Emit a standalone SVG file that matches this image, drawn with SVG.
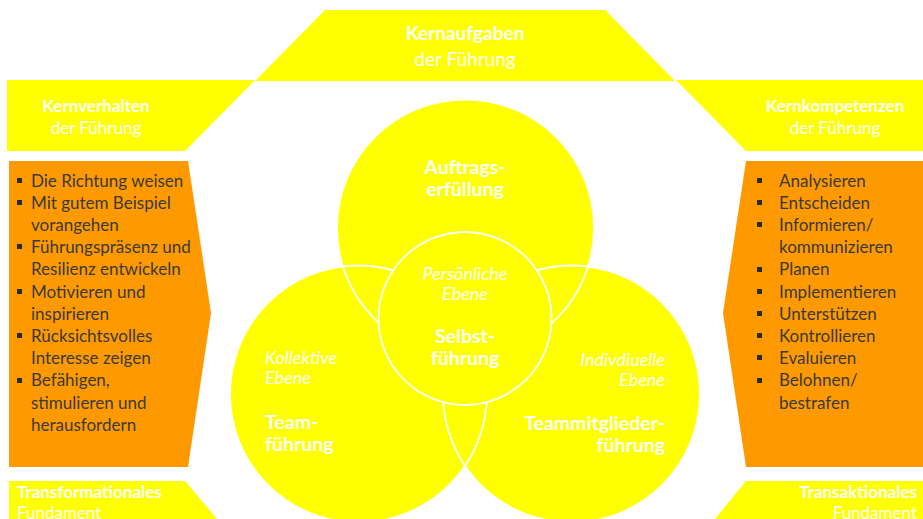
<svg xmlns="http://www.w3.org/2000/svg" width="923" height="519" viewBox="0 0 923 519">
<style>
.y{fill:#FFFF00}
.o{fill:#FF9900}
.h{font-family:Lato,"Liberation Sans",sans-serif;fill:#fff;text-anchor:middle}
.b{font-weight:bold}
.li{font-family:Lato,"Liberation Sans",sans-serif;font-size:17px;fill:#3a3a3a}
.c{font-family:Lato,"Liberation Sans",sans-serif;fill:#fff}
.it{font-style:italic;font-size:18px}
.bl{font-weight:bold;font-size:19.5px}
.ring{fill:none;stroke:#fff;stroke-width:1.8}
</style>
<rect width="923" height="519" fill="#fff"/>
<g id="kernaufgaben">
<polygon class="y" points="325,10 605,10 675,81 255,81"/>
<text class="h b" x="465" y="40" font-size="19">Kernaufgaben</text>
<text class="h" x="465" y="66" font-size="19">der Führung</text>
</g>
<g id="kernverhalten">
<polygon class="y" points="7,80 255,80 185,151 7,151"/>
<text class="h b" x="96" y="112" font-size="17">Kernverhalten</text>
<text class="h" x="96" y="134" font-size="17">der Führung</text>
</g>
<g id="kernkompetenzen">
<polygon class="y" points="676,80 923,80 923,151 746,151"/>
<text class="h b" x="835" y="112" font-size="17">Kernkompetenzen</text>
<text class="h" x="835" y="134" font-size="17">der Führung</text>
</g>
<g id="liste-links">
<polygon class="o" points="9,161 188,161 211,313 188,467 9,467"/>
<g fill="#2a2a2a">
<rect x="17" y="178" width="5" height="5"/>
<rect x="17" y="200" width="5" height="5"/>
<rect x="17" y="244" width="5" height="5"/>
<rect x="17" y="289" width="5" height="5"/>
<rect x="17" y="333" width="5" height="5"/>
<rect x="17" y="378" width="5" height="5"/>
</g>
<text class="li" x="31" y="186.5">Die Richtung weisen</text>
<text class="li" x="31" y="208.7">Mit gutem Beispiel</text>
<text class="li" x="31" y="230.9">vorangehen</text>
<text class="li" x="31" y="253.1">Führungspräsenz und</text>
<text class="li" x="31" y="275.3">Resilienz entwickeln</text>
<text class="li" x="31" y="297.5">Motivieren und</text>
<text class="li" x="31" y="319.7">inspirieren</text>
<text class="li" x="31" y="341.9">Rücksichtsvolles</text>
<text class="li" x="31" y="364.1">Interesse zeigen</text>
<text class="li" x="31" y="386.3">Befähigen,</text>
<text class="li" x="31" y="408.5">stimulieren und</text>
<text class="li" x="31" y="430.7">herausfordern</text>
</g>
<g id="liste-rechts">
<polygon class="o" points="746,161 923,161 923,467 746,467 723,313"/>
<g fill="#2a2a2a">
<rect x="757" y="178" width="5" height="5"/>
<rect x="757" y="200" width="5" height="5"/>
<rect x="757" y="222" width="5" height="5"/>
<rect x="757" y="267" width="5" height="5"/>
<rect x="757" y="289" width="5" height="5"/>
<rect x="757" y="311" width="5" height="5"/>
<rect x="757" y="333" width="5" height="5"/>
<rect x="757" y="355" width="5" height="5"/>
<rect x="757" y="378" width="5" height="5"/>
</g>
<text class="li" x="779" y="186.5">Analysieren</text>
<text class="li" x="779" y="208.7">Entscheiden</text>
<text class="li" x="779" y="230.9">Informieren/</text>
<text class="li" x="779" y="253.1">kommunizieren</text>
<text class="li" x="779" y="275.3">Planen</text>
<text class="li" x="779" y="297.5">Implementieren</text>
<text class="li" x="779" y="319.7">Unterstützen</text>
<text class="li" x="779" y="341.9">Kontrollieren</text>
<text class="li" x="779" y="364.1">Evaluieren</text>
<text class="li" x="779" y="386.3">Belohnen/</text>
<text class="li" x="779" y="408.5">bestrafen</text>
</g>
<g id="fundament-links">
<polygon class="y" points="9,481 185,481 217,519 9,519"/>
<text class="c b" x="17" y="498" font-size="17">Transformationales</text>
<text class="c" x="17" y="519" font-size="17">Fundament</text>
</g>
<g id="fundament-rechts">
<polygon class="y" points="746,481 923,481 923,519 715,519"/>
<text class="c b" x="917" y="498" font-size="17" text-anchor="end">Transaktionales</text>
<text class="c" x="917" y="519" font-size="17" text-anchor="end">Fundament</text>
</g>
<g id="kreise">
<circle class="y" cx="465.5" cy="228" r="128.5"/>
<circle class="y" cx="358.5" cy="394" r="128.5"/>
<circle class="y" cx="571.5" cy="394" r="128.5"/>
<circle class="ring" cx="465.5" cy="228" r="128.5"/>
<circle class="ring" cx="358.5" cy="394" r="128.5"/>
<circle class="ring" cx="571.5" cy="394" r="128.5"/>
</g>
<g id="auftragserfuellung">
<text class="c bl" x="465" y="174" text-anchor="middle">Auftrags-</text>
<text class="c bl" x="465" y="196" text-anchor="middle">erfüllung</text>
</g>
<g id="teamfuehrung">
<text class="c it" x="265" y="364">Kollektive</text>
<text class="c it" x="265" y="384">Ebene</text>
<text class="c bl" x="265" y="429">Team-</text>
<text class="c bl" x="265" y="451">führung</text>
</g>
<g id="teammitgliederfuehrung">
<text class="c it" x="665" y="366" text-anchor="end">Indivdiuelle</text>
<text class="c it" x="665" y="386" text-anchor="end">Ebene</text>
<text class="c bl" x="665" y="430" text-anchor="end">Teammitglieder-</text>
<text class="c bl" x="665" y="452" text-anchor="end">führung</text>
</g>
<g id="selbstfuehrung">
<circle class="y" cx="465" cy="318.5" r="86.5" stroke="#fff" stroke-width="1.8"/>
<text class="c it" x="465" y="280" text-anchor="middle">Persönliche</text>
<text class="c it" x="465" y="300" text-anchor="middle">Ebene</text>
<text class="c bl" x="465" y="343" text-anchor="middle">Selbst-</text>
<text class="c bl" x="465" y="365" text-anchor="middle">führung</text>
</g>
</svg>
